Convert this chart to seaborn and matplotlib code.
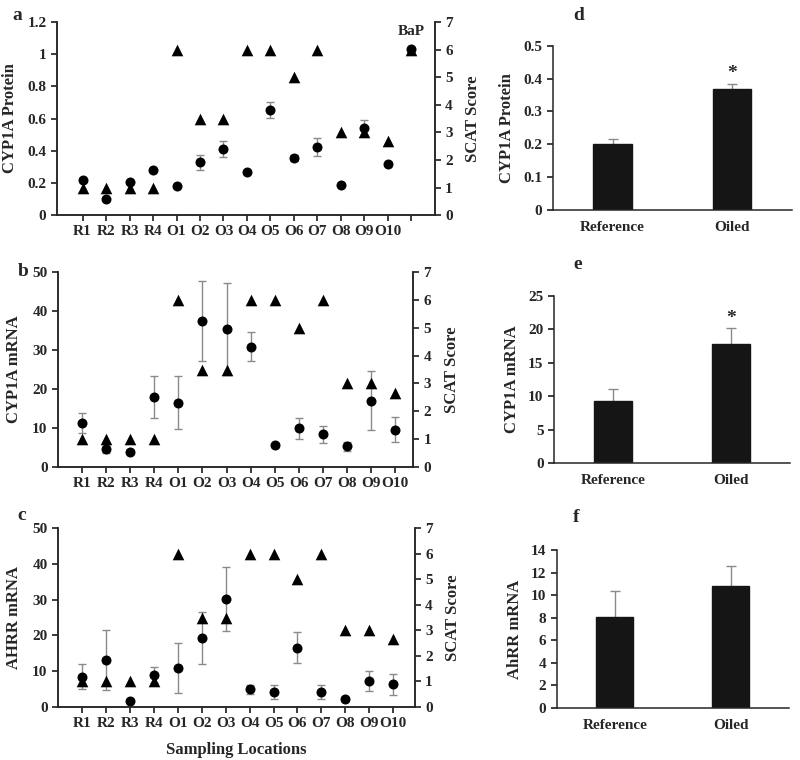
import numpy as np
import pandas as pd
import matplotlib
matplotlib.use("Agg")
import matplotlib.pyplot as plt
import seaborn as sns
from matplotlib.ticker import FuncFormatter

# ---------------- data ----------------
sites = ["R1", "R2", "R3", "R4", "O1", "O2", "O3", "O4", "O5", "O6", "O7", "O8", "O9", "O10"]
scat = [1, 1, 1, 1, 6, 3.5, 3.5, 6, 6, 5, 6, 3, 3, 2.67]

protein = [0.221, 0.099, 0.207, 0.283, 0.18, 0.327, 0.408, 0.265, 0.654, 0.356, 0.424, 0.19, 0.542, 0.317]
protein_err = [0, 0, 0, 0, 0, 0.045, 0.05, 0, 0.05, 0.02, 0.055, 0, 0.05, 0]
bap_protein = 1.03
bap_scat = 6

cyp_mrna = [11.3, 4.5, 3.9, 18.0, 16.5, 37.5, 35.4, 30.9, 5.6, 9.9, 8.4, 5.3, 17.0, 9.6]
cyp_mrna_err = [2.6, 0.8, 0.5, 5.4, 6.8, 10.2, 11.8, 3.6, 0.5, 2.7, 2.2, 1.1, 7.5, 3.2]

ahrr = [8.4, 13.1, 1.7, 8.9, 10.9, 19.3, 30.2, 4.9, 4.2, 16.6, 4.2, 2.3, 7.3, 6.3]
ahrr_err = [3.5, 8.3, 0.3, 2.2, 6.9, 7.3, 8.9, 1.3, 2.0, 4.4, 2.0, 0.5, 2.9, 3.0]

groups = ["Reference", "Oiled"]
grp_protein = [0.201, 0.368]
grp_protein_err = [0.016, 0.017]
grp_cyp = [9.3, 17.8]
grp_cyp_err = [1.8, 2.4]
grp_ahrr = [8.1, 10.8]
grp_ahrr_err = [2.3, 1.8]

# ---------------- style ----------------
sns.set_theme(style="ticks")
plt.rcParams["font.family"] = ["Liberation Serif", "DejaVu Serif"]
plt.rcParams["font.weight"] = "bold"
plt.rcParams["axes.labelweight"] = "bold"
plt.rcParams["axes.linewidth"] = 1.1
plt.rcParams["xtick.direction"] = "out"
plt.rcParams["ytick.direction"] = "out"
plt.rcParams["xtick.major.size"] = 4
plt.rcParams["ytick.major.size"] = 4
plt.rcParams["xtick.labelsize"] = 11
plt.rcParams["ytick.labelsize"] = 11

W, H = 800, 760
LABEL_FS = 12
fig = plt.figure(figsize=(8, 7.6), dpi=100)

GREY = "#8a8a8a"
num_fmt = FuncFormatter(lambda v, p: f"{v:g}")


def letter(px, py, s):
    fig.text(px / W, 1 - py / H, s, fontsize=14, fontweight="bold",
             va="center", ha="left")


def site_panel(rect, values, errors, ylabel, ymax, ystep, xlim, extra=None):
    ax = fig.add_axes(rect)
    n = len(sites)
    x = np.arange(n)
    xs = list(x)
    ys = list(values)
    if extra is not None:
        xs.append(n)
        ys.append(extra[0])
    ax.errorbar(x, values, yerr=errors, fmt="none", ecolor=GREY, elinewidth=1,
                capsize=3, capthick=1, zorder=1)
    sns.scatterplot(x=xs, y=ys, ax=ax, color="black", marker="o", s=52,
                    linewidth=0, zorder=3)
    ax.set_ylim(0, ymax)
    ax.set_yticks(np.arange(0, ymax + ystep / 2, ystep))
    ax.yaxis.set_major_formatter(num_fmt)
    ax.set_ylabel(ylabel, fontsize=LABEL_FS, labelpad=7)
    ax.set_xlim(*xlim)
    ticks = list(x) + ([n] if extra is not None else [])
    ax.set_xticks(ticks)
    ax.set_xticklabels(sites + ([""] if extra is not None else []))
    ax.spines["top"].set_visible(False)

    ax2 = ax.twinx()
    sx = list(x) + ([n] if extra is not None else [])
    sy = list(scat) + ([extra[1]] if extra is not None else [])
    sns.scatterplot(x=sx, y=sy, ax=ax2, color="black", marker="^", s=70,
                    linewidth=0, zorder=2)
    ax2.set_ylim(0, 7)
    ax2.set_yticks(range(0, 8))
    ax2.set_ylabel("SCAT Score", fontsize=LABEL_FS, labelpad=9)
    ax2.spines["top"].set_visible(False)
    ax2.set_xlim(*xlim)
    for a in (ax, ax2):
        for t in a.get_yticklabels() + a.get_xticklabels():
            t.set_fontweight("bold")
    return ax, ax2


def bar_panel(rect, values, errors, ylabel, ymax, ystep, star=False, fmt=None):
    ax = fig.add_axes(rect)
    df = pd.DataFrame({"group": groups, "value": values})
    ax.errorbar(range(len(groups)), values, yerr=errors, fmt="none",
                ecolor=GREY, elinewidth=1, capsize=3.5, capthick=1, zorder=0.5)
    sns.barplot(data=df, x="group", y="value", ax=ax, color="#151515",
                width=0.32, saturation=1, edgecolor="#151515", zorder=2)
    ax.set_xlim(-0.5, 1.5)
    ax.set_ylim(0, ymax)
    ax.set_yticks(np.arange(0, ymax + ystep / 2, ystep))
    ax.yaxis.set_major_formatter(fmt if fmt is not None else num_fmt)
    ax.set_xlabel("")
    ax.set_ylabel(ylabel, fontsize=LABEL_FS, labelpad=6)
    ax.tick_params(axis="x", length=0, pad=8)
    sns.despine(ax=ax)
    for t in ax.get_yticklabels() + ax.get_xticklabels():
        t.set_fontweight("bold")
    if star:
        ax.annotate("*", (1, values[1] + errors[1]), xytext=(0, 1),
                    textcoords="offset points", ha="center", va="bottom",
                    fontsize=14, fontweight="bold")
    return ax


# ---- left column ----
ax_a, ax_a2 = site_panel([0.071, 0.717, 0.4725, 0.254], protein, protein_err,
                         "CYP1A Protein", 1.2, 0.2, (-1.1, 15.0),
                         extra=(bap_protein, bap_scat))
ax_a.annotate("BaP", (len(sites), bap_protein), xytext=(0, 8),
              textcoords="offset points", ha="center", va="bottom",
              fontsize=11, fontweight="bold")
letter(12, 15, "a")

site_panel([0.0725, 0.3855, 0.444, 0.2566], cyp_mrna, cyp_mrna_err,
           "CYP1A mRNA", 50, 10, (-1.0, 13.75))
letter(18, 272, "b")

ax_c, _ = site_panel([0.0725, 0.0697, 0.446, 0.2355], ahrr, ahrr_err,
                     "AHRR mRNA", 50, 10, (-1.0, 13.9))
ax_c.set_xlabel("Sampling Locations", fontsize=LABEL_FS, labelpad=8)
letter(17, 515, "c")

# ---- right column ----
bar_panel([0.691, 0.7237, 0.299, 0.216], grp_protein, grp_protein_err,
          "CYP1A Protein", 0.5, 0.1, star=True,
          fmt=FuncFormatter(lambda v, p: "0" if v == 0 else f"{v:.1f}"))
letter(573, 15, "d")
bar_panel([0.6925, 0.3908, 0.295, 0.2197], grp_cyp, grp_cyp_err,
          "CYP1A mRNA", 25, 5, star=True)
letter(573, 265, "e")
bar_panel([0.696, 0.0684, 0.29, 0.208], grp_ahrr, grp_ahrr_err,
          "AhRR mRNA", 14, 2)
letter(573, 518, "f")

fig.savefig("out.png", dpi=100)
